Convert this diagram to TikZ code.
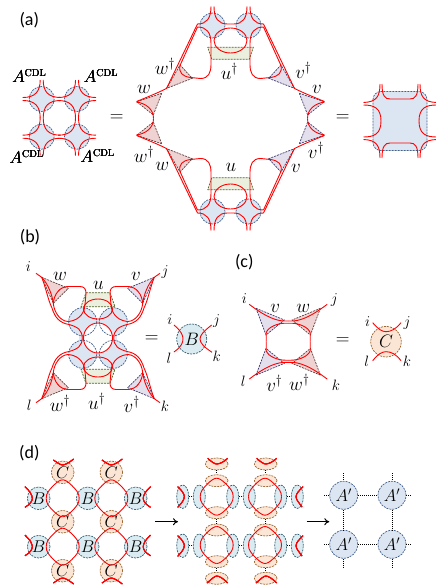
\documentclass[tikz,border=0pt]{standalone}
\usepackage{fix-cm}
\usepackage[no-math]{fontspec}
\setmainfont{Carlito}
\usetikzlibrary{arrows.meta,shapes.geometric}
\definecolor{blobblue}{HTML}{DCE5F2}
\definecolor{edgeblue}{HTML}{44608C}
\definecolor{blobteal}{HTML}{DAECF2}
\definecolor{edgeteal}{HTML}{2F5C70}
\definecolor{bloborange}{HTML}{FBE6D6}
\definecolor{edgeorange}{HTML}{9C6530}
\definecolor{fillgreen}{HTML}{EBF0DE}
\definecolor{edgegreen}{HTML}{4F6228}
\definecolor{fillpink}{HTML}{EFD3D2}
\definecolor{edgepink}{HTML}{5F3B3B}
\definecolor{fillviolet}{HTML}{E4DFEC}
\definecolor{edgeviolet}{HTML}{3F3B6B}
\tikzset{
    redline/.style={red, line width=0.9pt},
    dashline/.style={line width=0.7pt, dash pattern=on 2pt off 1pt},
    bluecell/.style={dashline, fill=blobblue, draw=edgeblue},
    tealcell/.style={dashline, fill=blobteal, draw=edgeteal},
    orangecell/.style={dashline, fill=bloborange, draw=edgeorange},
    greencell/.style={dashline, fill=fillgreen, draw=edgegreen},
    bnode/.style={tealcell, circle, minimum size=22.6pt, inner sep=0pt, font=\fontsize{17}{17}\selectfont},
    cnode/.style={orangecell, circle, minimum size=22.6pt, inner sep=0pt, font=\fontsize{17}{17}\selectfont},
    anode/.style={bluecell, circle, minimum size=28pt, inner sep=0pt, font=\fontsize{17}{17}\selectfont},
    lab/.style={inner sep=0pt, font=\fontsize{19}{19}\selectfont},
    smalllab/.style={inner sep=0pt, font=\fontsize{15}{15}\selectfont},
    panellab/.style={inner sep=0pt, font=\fontsize{18}{18}\selectfont},
    dotlink/.style={line width=0.9pt, dash pattern=on 1pt off 1pt},
    bigarrow/.style={-{To[length=5pt,width=7pt]}, line width=1pt},
}
% one CDL tensor with its four corner lines
\newcommand{\cdlcell}[2]{
    \begin{scope}[shift={(#1,#2)}]
        \draw[bluecell] (0,0) circle (12.5);
        \foreach \sx/\sy in {1/1,1/-1,-1/1,-1/-1}
            \draw[redline,xscale=\sx,yscale=\sy] (1.5,19) .. controls (1.5,7) and (7,1.5) .. (19,1.5);
    \end{scope}
}
% plaquette loop of panel (d)
\newcommand{\plaqloop}[2]{
    \foreach \sx/\sy in {1/1,1/-1,-1/1,-1/-1}
        \draw[redline,shift={(#1,#2)},xscale=\sx,yscale=\sy] (16.5,0) .. controls (16.5,5) and (14,8) .. (9,13) .. controls (5,17) and (2,18.5) .. (0,18.5);
}
\begin{document}
\begin{tikzpicture}[x=1pt,y=-1pt]
    \useasboundingbox (0,0) rectangle (436,586);
    \node[panellab] (panela) at (29.3,20) {(a)};
    \node[panellab] (panelb) at (30,236.7) {(b)};
    \node[panellab] (panelc) at (244.3,261.7) {(c)};
    \node[panellab] (paneld) at (29.3,453.3) {(d)};

    % (a) four CDL tensors
    \foreach \x/\y in {41.7/99,77/99,41.7/136.7,77/136.7}
        \cdlcell{\x}{\y}
    \foreach \x/\y [count=\n] in {29.3/76,101/76,26.7/156.7,97.7/156}
        \node[lab,font=\fontsize{17}{17}\selectfont] (acdl\n) at (\x,\y) {$A^{\hbox{\usefont{OT1}{cmr}{m}{n}\fontsize{10}{10}\selectfont CDL}}$};
    \node[lab] (eqa) at (116.7,118.5) {$=$};

    % (a) middle network
    \foreach \sy in {1,-1} {
        \begin{scope}[shift={(230.5,118.5)},yscale=\sy]
            \draw[greencell] (-22.8,-71.2) -- (22.8,-71.2) -- (18.8,-59.2) -- (-18.8,-59.2) -- cycle;
        \end{scope}
    }
    \foreach \sx/\sy/\tcol/\tline in {1/1/fillpink/edgepink,1/-1/fillpink/edgepink,-1/1/fillviolet/edgeviolet,-1/-1/fillviolet/edgeviolet} {
        \begin{scope}[shift={(230.5,118.5)},xscale=\sx,yscale=\sy]
            \draw[bluecell] (-18,-93) circle (12.5);
            \draw[dashline,fill=\tcol,draw=\tline] (-50.5,-53.5) -- (-38.2,-40.2) -- (-63.8,-30.2) -- cycle;
            \draw[dashline,fill=\tcol,draw=\tline] (-68.8,-25.2) -- (-93.8,-16.8) -- (-77.2,-3.5) -- cycle;
            \draw[redline] (-19.5,-112) .. controls (-19.5,-100) and (-24,-94.5) .. (-33,-94.5) -- (-64,-30) .. controls (-72,-26) and (-84,-21) .. (-94,-17);
            \draw[redline] (-33,-91.5) -- (-50.5,-53) .. controls (-52,-46) and (-48,-42) .. (-40,-41) -- (-30,-40) .. controls (-22,-40) and (-19.5,-46) .. (-19.5,-54) -- (-19.5,-75) .. controls (-19.5,-86) and (-24,-91.5) .. (-33,-91.5);
            \draw[redline] (-16.5,-112) .. controls (-16.5,-100) and (-12,-94.5) .. (-3,-94.5) -- (0,-94.5);
            \draw[redline] (-94,-16.5) .. controls (-84,-15) and (-77,-9) .. (-77,0);
        \end{scope}
    }
    \draw[redline] (230.5,40.5) ellipse (16.5 and 12.5);
    \draw[redline] (230.5,196.5) ellipse (16.5 and 12.5);
    \foreach \x/\y/\txt [count=\n] in {165/66.7/w^\dagger,144/89.3/w,144/154/w^\dagger,162.3/166.7/w,229.3/71.7/u^\dagger,231/167.7/u,303.3/70.7/v^\dagger,317/89.3/v,316/150/v^\dagger,296/168.3/v}
        \node[lab] (alab\n) at (\x,\y) {$\txt$};
    \node[lab] (eqb) at (342.7,118) {$=$};

    % (a) merged tensor
    \begin{scope}[shift={(400,121)}]
        \draw[bluecell,rounded corners=8pt] (-27,-29.5) rectangle (27,29.5);
        \foreach \sx/\sy in {1/1,1/-1,-1/1,-1/-1} {
            \draw[redline,xscale=\sx,yscale=\sy] (-20,-37) .. controls (-20,-24) and (-24,-19) .. (-36.5,-18.5);
        }
        \foreach \sy in {1,-1}
            \draw[redline,yscale=\sy] (-18,-37) .. controls (-18,-25) and (-15,-22) .. (-10,-22) -- (10,-22) .. controls (15,-22) and (18,-25) .. (18,-37);
        \foreach \sx in {1,-1}
            \draw[redline,xscale=\sx] (-36.5,-16) .. controls (-26,-16) and (-19,-13) .. (-19,0) .. controls (-19,13) and (-26,16) .. (-36.5,16);
    \end{scope}

    % (b)
    \begin{scope}[shift={(98,338)}]
        \foreach \sx/\sy in {1/1,1/-1,-1/1,-1/-1}
            \fill[blobblue] (\sx*15.3,\sy*16.3) circle (14);
        \fill[blobblue] (-19,-19) rectangle (19,19);
        \fill[white] (0,0) ellipse (14.5 and 15);
        \foreach \sx/\sy in {1/1,1/-1,-1/1,-1/-1}
            \draw[dashline,draw=edgeblue] (\sx*15.3,\sy*16.3) circle (14);
        \foreach \sy in {1,-1}
            \draw[greencell,yscale=\sy] (-12,-45.3) -- (12,-45.3) -- (17,-31.3) -- (-17,-31.3) -- cycle;
        \foreach \sx/\sy/\tcol/\tline in {1/1/fillpink/edgepink,1/-1/fillpink/edgepink,-1/1/fillviolet/edgeviolet,-1/-1/fillviolet/edgeviolet} {
            \begin{scope}[xscale=\sx,yscale=\sy]
                \draw[dashline,fill=\tcol,draw=\tline] (-56.3,-60.7) -- (-29.7,-49.7) -- (-44.7,-34.7) -- cycle;
                \draw[redline] (-62,-64.7) -- (-56.3,-60.7) .. controls (-52,-50) and (-50,-38) .. (-46,-30) .. controls (-43,-20) and (-38,-15) .. (-29,-13.5) .. controls (-20,-11) and (-16,-8) .. (-15.7,0);
                \draw[redline] (-30,-16.5) .. controls (-22,-17) and (-14,-22) .. (-13,-33) -- (-12,-45) .. controls (-12,-49) and (-14,-51.5) .. (-18,-51.5) -- (-31,-51.5) .. controls (-38,-51) and (-44,-44) .. (-44.7,-34.7) .. controls (-44,-26) and (-38,-17) .. (-30,-16.5) -- cycle;
                \draw[redline] (-56.3,-60.7) .. controls (-50,-54) and (-46,-44) .. (-44.7,-34.7);
            \end{scope}
        }
        \draw[redline] (0,-29) ellipse (14.5 and 10);
        \draw[redline] (0,0) ellipse (14.5 and 15);
        \draw[redline] (0,29) ellipse (14.5 and 10);
    \end{scope}
    \foreach \x/\y/\txt [count=\n] in {60/276.7/w,98.3/285/u,136/276.7/v,60/403.3/w^\dagger,96.7/401.7/u^\dagger,131.7/404/v^\dagger}
        \node[lab] (blab\n) at (\x,\y) {$\txt$};
    \foreach \x/\y/\txt [count=\n] in {28.3/266.7/i,165/271.7/j,29.3/405/l,165/406.7/k,170/319.3/i,216.7/321/j,169/358.3/l,216.7/356.7/k}
        \node[smalllab] (bidx\n) at (\x,\y) {$\txt$};
    \node[lab] (eqc) at (151.7,339.3) {$=$};
    \node[bnode,minimum size=30pt,font=\fontsize{18}{18}\selectfont] (bten) at (191.7,339) {$B$};
    \draw[redline] (174,325) .. controls (181,331) and (183,335) .. (183,339) .. controls (183,343) and (181,347) .. (174,352);
    \draw[redline] (211.7,325) .. controls (204,331) and (200,335) .. (200,339) .. controls (200,343) and (204,347) .. (212,352.3);

    % (c)
    \begin{scope}[shift={(288.2,341.7)}]
        \foreach \sx/\sy/\tcol/\tline in {1/1/fillviolet/edgeviolet,1/-1/fillviolet/edgeviolet,-1/1/fillpink/edgepink,-1/-1/fillpink/edgepink} {
            \begin{scope}[xscale=\sx,yscale=\sy]
                \draw[dashline,fill=\tcol,draw=\tline] (-32.2,-33.4) -- (-3.9,-21.7) -- (-22.2,-6.7) -- cycle;
                \draw[redline] (-39,-37.4) .. controls (-28,-29) and (-16,-21.5) .. (-5,-20.7) -- (0,-20.7);
                \draw[redline] (-22,0) -- (-22,-9) .. controls (-20,-15) and (-10,-18.5) .. (-3,-18.5) -- (0,-18.5);
            \end{scope}
        }
    \end{scope}
    \foreach \x/\y/\txt [count=\n] in {275.3/308.3/v,303.3/308.3/w,274.3/383.3/v^\dagger,299.3/382.3/w^\dagger}
        \node[lab] (clab\n) at (\x,\y) {$\txt$};
    \foreach \x/\y/\txt [count=\n] in {244.3/298.3/i,334.3/300/j,243.3/381.7/l,336/385.7/k,367.7/321.7/i,407/323.3/j,366.7/361.7/l,407/361.7/k}
        \node[smalllab] (cidx\n) at (\x,\y) {$\txt$};
    \node[lab] (eqd) at (342.7,341) {$=$};
    \node[cnode,minimum size=30.6pt,font=\fontsize{18}{18}\selectfont] (cten) at (386,341.7) {$C$};
    \draw[redline] (372.7,322.7) .. controls (378,329) and (382,331.7) .. (386,331.7) .. controls (391,331.7) and (396,329) .. (401,322.7);
    \draw[redline] (372.7,360.7) .. controls (378,354) and (382,351.7) .. (386,351.7) .. controls (391,351.7) and (396,354) .. (401,360.7);

    % (d) left lattice
    \foreach \x [count=\i] in {38.7,87.7,135.7}
        \foreach \y [count=\j] in {498.3,546.7}
            \node[bnode] (b\i\j) at (\x,\y) {$B$};
    \foreach \x [count=\i] in {62.7,111.3}
        \foreach \y [count=\j] in {472.3,521.7,570.7}
            \node[cnode] (c\i\j) at (\x,\y) {$C$};
    \foreach \x in {62.7,111.3}
        \foreach \y in {498.3,546.7}
            \plaqloop{\x}{\y}
    \foreach \y in {498.3,546.7} {
        \draw[redline] (25,\y-11.6) .. controls (30,\y-7) and (32.3,\y-3) .. (32.3,\y) .. controls (32.3,\y+3) and (30,\y+6) .. (25,\y+9);
        \draw[redline] (150.5,\y-11.6) .. controls (145.5,\y-7) and (143.2,\y-3) .. (143.2,\y) .. controls (143.2,\y+3) and (145.5,\y+6) .. (150.5,\y+9);
    }
    \foreach \x in {62.7,111.3} {
        \draw[redline] (\x-9.3,460) .. controls (\x-5,463) and (\x-2,465) .. (\x,465) .. controls (\x+2,465) and (\x+6,463) .. (\x+11,459);
        \draw[redline] (\x-9.3,583) .. controls (\x-5,580) and (\x-2,578) .. (\x,578) .. controls (\x+2,578) and (\x+6,580) .. (\x+11,584);
    }
    \coordinate (arrowa) at (155,521.7);
    \coordinate (arrowb) at (178,521.7);
    \draw[bigarrow] (arrowa) -- (arrowb);

    % (d) split tensors
    \foreach \x [count=\i] in {182.7,199.3,232.7,249.3,280.7,297.3}
        \foreach \y [count=\j] in {496.7,545.7}
            \node[tealcell,ellipse,minimum width=12pt,minimum height=23.4pt,inner sep=0pt] (sb\i\j) at (\x,\y) {};
    \foreach \x [count=\i] in {216.7,265.7}
        \foreach \y [count=\j] in {464,480.7,512.7,530,561.7,578.3}
            \node[orangecell,ellipse,minimum width=22.6pt,minimum height=12pt,inner sep=0pt] (sc\i\j) at (\x,\y) {};
    \foreach \j in {1,2} {
        \draw[dotlink] (sb1\j) -- (sb2\j);
        \draw[dotlink] (sb3\j) -- (sb4\j);
        \draw[dotlink] (sb5\j) -- (sb6\j);
    }
    \foreach \i in {1,2} {
        \draw[dotlink] (sc\i1) -- (sc\i2);
        \draw[dotlink] (sc\i3) -- (sc\i4);
        \draw[dotlink] (sc\i5) -- (sc\i6);
    }
    \foreach \x in {216.7,265}
        \foreach \y in {496.7,545}
            \plaqloop{\x}{\y}
    \foreach \y in {496.7,545.7} {
        \draw[redline] (177.7,\y-10) .. controls (182,\y-6) and (184.3,\y-3) .. (184.3,\y) .. controls (184.3,\y+3) and (182,\y+6) .. (177.7,\y+10.6);
        \draw[redline] (303,\y-10) .. controls (299,\y-6) and (296,\y-3) .. (296,\y) .. controls (296,\y+3) and (299,\y+6) .. (302,\y+10.3);
    }
    \foreach \x in {216.7,265.7} {
        \draw[redline] (\x-9,458.3) .. controls (\x-5,462) and (\x-2,464) .. (\x,464) .. controls (\x+3,464) and (\x+7,462) .. (\x+11,458.3);
        \draw[redline] (\x-9.7,583) .. controls (\x-5,579) and (\x-2,576) .. (\x,576) .. controls (\x+3,576) and (\x+7,579) .. (\x+11,583);
    }
    \coordinate (arrowc) at (306.7,521.7);
    \coordinate (arrowd) at (329.3,521.7);
    \draw[bigarrow] (arrowc) -- (arrowd);

    % (d) coarse lattice
    \foreach \x [count=\i] in {343.7,392}
        \foreach \y [count=\j] in {495.3,544.3}
            \node[anode] (ap\i\j) at (\x,\y) {$A'$};
    \foreach \i/\x in {1/343.7,2/392} {
        \coordinate (apt\i) at (\x,473);
        \coordinate (apb\i) at (\x,568.3);
        \draw[dotlink] (apt\i) -- (ap\i1);
        \draw[dotlink] (ap\i1) -- (ap\i2);
        \draw[dotlink] (ap\i2) -- (apb\i);
    }
    \foreach \j/\y in {1/495.3,2/544.3} {
        \coordinate (apl\j) at (324.3,\y);
        \coordinate (apr\j) at (412,\y);
        \draw[dotlink] (apl\j) -- (ap1\j);
        \draw[dotlink] (ap1\j) -- (ap2\j);
        \draw[dotlink] (ap2\j) -- (apr\j);
    }
\end{tikzpicture}
\end{document}
